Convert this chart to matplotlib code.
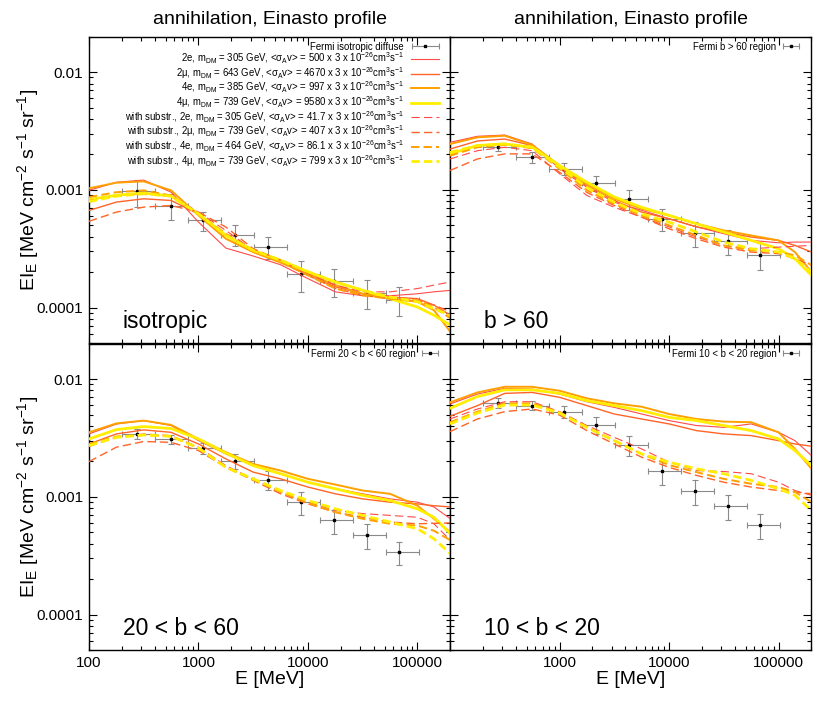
import numpy as np
import matplotlib
matplotlib.use('Agg')
import matplotlib.pyplot as plt
from matplotlib.ticker import LogLocator, FuncFormatter, NullFormatter
from matplotlib.legend_handler import HandlerErrorbar
from matplotlib.container import ErrorbarContainer

plt.rcParams['font.family'] = ['Liberation Sans', 'DejaVu Sans']
plt.rcParams['mathtext.fontset'] = 'custom'
plt.rcParams['mathtext.rm'] = 'Liberation Sans'
plt.rcParams['mathtext.it'] = 'Liberation Sans:italic'
plt.rcParams['mathtext.bf'] = 'Liberation Sans:bold'
plt.rcParams['lines.scale_dashes'] = False

# ---------------- data ----------------
E_model = [100, 178, 316, 562, 1000, 1778, 3162, 5623, 10000, 17783, 31623, 56234, 100000, 141254, 200000]

E_data = [277, 556, 1100, 2170, 4330, 8600, 17200, 34700, 68000]
E_lo = [200, 400, 800, 1600, 3200, 6400, 12800, 25600, 51200]
E_hi = [400, 800, 1600, 3200, 6400, 12800, 25600, 51200, 102400]

# isotropic
iso_I = [9.7e-4, 7.36e-4, 5.5e-4, 4.15e-4, 3.29e-4, 1.93e-4, 1.67e-4, 1.34e-4, 1.17e-4]
iso_err = [2.5e-4, 1.85e-4, 1.0e-4, 8.3e-5, 7.2e-5, 5.8e-5, 4.5e-5, 3.75e-5, 3.3e-5]
iso_2e = [9.9e-4, 1.16e-3, 1.21e-3, 9.55e-4, 5.32e-4, 3.2e-4, 2.74e-4, 2.31e-4, 1.76e-4, 1.36e-4, 1.26e-4, 1.26e-4, 1.31e-4, 1.36e-4, 1.40e-4]
iso_2mu = [6.68e-4, 7.87e-4, 8.39e-4, 8.12e-4, 6.26e-4, 4.1e-4, 2.96e-4, 2.44e-4, 1.88e-4, 1.5e-4, 1.31e-4, 1.23e-4, 1.19e-4, 1.05e-4, 8.6e-5]
iso_4e = [1.03e-3, 1.15e-3, 1.18e-3, 9.9e-4, 6.06e-4, 3.84e-4, 2.96e-4, 2.41e-4, 1.94e-4, 1.55e-4, 1.31e-4, 1.19e-4, 1.12e-4, 9.5e-5, 6.2e-5]
iso_4mu = [8.28e-4, 9.0e-4, 9.4e-4, 8.85e-4, 6.26e-4, 4.1e-4, 3.06e-4, 2.52e-4, 2.01e-4, 1.65e-4, 1.4e-4, 1.19e-4, 1.01e-4, 8.6e-5, 7.1e-5]
iso_2e_sub = [8.12e-4, 8.85e-4, 9.25e-4, 8.95e-4, 6.47e-4, 4.52e-4, 3.06e-4, 2.52e-4, 1.94e-4, 1.55e-4, 1.36e-4, 1.36e-4, 1.45e-4, 1.55e-4, 1.65e-4]
iso_2mu_sub = [5.4e-4, 6.47e-4, 7.13e-4, 7.36e-4, 6.47e-4, 4.83e-4, 3.16e-4, 2.52e-4, 1.88e-4, 1.45e-4, 1.27e-4, 1.19e-4, 1.15e-4, 1.05e-4, 9.2e-5]
iso_4e_sub = [8.67e-4, 9.55e-4, 9.9e-4, 8.95e-4, 6.26e-4, 4.24e-4, 3.06e-4, 2.44e-4, 1.88e-4, 1.45e-4, 1.27e-4, 1.19e-4, 1.15e-4, 1.01e-4, 8.1e-5]
iso_4mu_sub = [7.96e-4, 8.85e-4, 9.25e-4, 8.85e-4, 6.26e-4, 4.1e-4, 3.06e-4, 2.52e-4, 2.01e-4, 1.65e-4, 1.4e-4, 1.23e-4, 1.12e-4, 9.8e-5, 8.6e-5]

# b > 60
b60_I = [2.30e-3, 1.89e-3, 1.51e-3, 1.15e-3, 8.4e-4, 5.68e-4, 4.3e-4, 3.67e-4, 2.81e-4]
b60_err = [1.8e-4, 1.9e-4, 1.8e-4, 1.7e-4, 1.6e-4, 1.25e-4, 1.03e-4, 8.8e-5, 7.3e-5]
b60_2e = [2.53e-3, 2.85e-3, 2.92e-3, 2.45e-3, 1.51e-3, 1.05e-3, 7.86e-4, 6.7e-4, 5.68e-4, 4.85e-4, 4.24e-4, 3.72e-4, 3.55e-4, 3.6e-4, 3.6e-4]
b60_2mu = [2.22e-3, 2.6e-3, 2.70e-3, 2.38e-3, 1.56e-3, 1.08e-3, 8.1e-4, 6.47e-4, 5.68e-4, 4.85e-4, 4.38e-4, 3.97e-4, 3.72e-4, 3.37e-4, 2.96e-4]
b60_4e = [2.45e-3, 2.79e-3, 2.88e-3, 2.41e-3, 1.61e-3, 1.12e-3, 8.4e-4, 6.9e-4, 6.06e-4, 5.15e-4, 4.52e-4, 4.1e-4, 3.72e-4, 2.96e-4, 2.01e-4]
b60_4mu = [2.02e-3, 2.38e-3, 2.45e-3, 2.30e-3, 1.61e-3, 1.16e-3, 8.7e-4, 7.1e-4, 6.06e-4, 5.15e-4, 4.38e-4, 3.72e-4, 3.16e-4, 2.6e-4, 1.88e-4]
b60_2e_sub = [1.83e-3, 2.15e-3, 2.30e-3, 2.15e-3, 1.37e-3, 8.95e-4, 7.1e-4, 5.86e-4, 4.85e-4, 3.97e-4, 3.37e-4, 3.16e-4, 3.26e-4, 3.32e-4, 3.37e-4]
b60_2mu_sub = [1.46e-3, 1.83e-3, 2.02e-3, 2.02e-3, 1.41e-3, 9.5e-4, 7.36e-4, 5.86e-4, 4.67e-4, 3.84e-4, 3.26e-4, 2.96e-4, 2.87e-4, 2.6e-4, 2.29e-4]
b60_4e_sub = [1.95e-3, 2.30e-3, 2.41e-3, 2.26e-3, 1.51e-3, 9.9e-4, 7.6e-4, 6.06e-4, 4.99e-4, 4.1e-4, 3.37e-4, 3.06e-4, 2.96e-4, 2.78e-4, 2.29e-4]
b60_4mu_sub = [2.08e-3, 2.38e-3, 2.45e-3, 2.30e-3, 1.56e-3, 1.05e-3, 7.86e-4, 6.26e-4, 5.32e-4, 4.38e-4, 3.6e-4, 3.16e-4, 2.96e-4, 2.6e-4, 2.01e-4]

# 20 < b < 60
b2060_I = [3.42e-3, 3.08e-3, 2.59e-3, 2.01e-3, 1.40e-3, 9.0e-4, 6.3e-4, 4.77e-4, 3.4e-4]
b2060_err = [3.4e-4, 2.5e-4, 2.6e-4, 2.8e-4, 2.5e-4, 2.0e-4, 1.5e-4, 1.15e-4, 7.5e-5]
b2060_2e = [3.42e-3, 4.15e-3, 4.44e-3, 4.03e-3, 3.0e-3, 2.31e-3, 1.84e-3, 1.57e-3, 1.33e-3, 1.17e-3, 1.06e-3, 9.6e-4, 9.0e-4, 8.2e-4, 6.5e-4]
b2060_2mu = [2.81e-3, 3.42e-3, 3.7e-3, 3.53e-3, 2.81e-3, 2.1e-3, 1.62e-3, 1.42e-3, 1.21e-3, 1.06e-3, 9.6e-4, 9.0e-4, 8.7e-4, 8.4e-4, 8.2e-4]
b2060_4e = [3.53e-3, 4.2e-3, 4.44e-3, 4.08e-3, 3.1e-3, 2.39e-3, 1.9e-3, 1.67e-3, 1.42e-3, 1.27e-3, 1.13e-3, 1.06e-3, 8.4e-4, 6.5e-4, 5.0e-4]
b2060_4mu = [3.1e-3, 3.72e-3, 3.95e-3, 3.8e-3, 3.1e-3, 2.35e-3, 1.84e-3, 1.57e-3, 1.33e-3, 1.17e-3, 1.03e-3, 9.3e-4, 7.9e-4, 6.7e-4, 4.85e-4]
b2060_2e_sub = [2.68e-3, 3.2e-3, 3.42e-3, 3.31e-3, 2.64e-3, 1.84e-3, 1.42e-3, 1.10e-3, 9.0e-4, 7.65e-4, 7.2e-4, 6.95e-4, 6.7e-4, 5.9e-4, 4.27e-4]
b2060_2mu_sub = [1.99e-3, 2.64e-3, 2.95e-3, 2.9e-3, 2.47e-3, 1.78e-3, 1.38e-3, 1.06e-3, 8.7e-4, 7.4e-4, 6.7e-4, 6.1e-4, 5.9e-4, 5.95e-4, 6.0e-4]
b2060_4e_sub = [2.81e-3, 3.25e-3, 3.35e-3, 3.27e-3, 2.6e-3, 1.78e-3, 1.40e-3, 1.10e-3, 8.85e-4, 7.4e-4, 6.5e-4, 5.9e-4, 5.7e-4, 5.15e-4, 4.27e-4]
b2060_4mu_sub = [2.72e-3, 3.2e-3, 3.35e-3, 3.27e-3, 2.6e-3, 1.78e-3, 1.42e-3, 1.13e-3, 9.3e-4, 7.9e-4, 6.95e-4, 6.1e-4, 5.35e-4, 4.4e-4, 3.29e-4]

# 10 < b < 20
b1020_I = [6.27e-3, 5.95e-3, 5.29e-3, 4.1e-3, 2.76e-3, 1.67e-3, 1.13e-3, 8.3e-4, 5.8e-4]
b1020_err = [6.3e-4, 5.4e-4, 6.3e-4, 6.6e-4, 5.5e-4, 4.0e-4, 2.7e-4, 2.0e-4, 1.4e-4]
b1020_2e = [6.14e-3, 7.46e-3, 8.34e-3, 8.23e-3, 7.46e-3, 6.42e-3, 5.75e-3, 5.05e-3, 4.44e-3, 4.03e-3, 3.89e-3, 4.16e-3, 3.53e-3, 3.0e-3, 2.24e-3]
b1020_2mu = [4.83e-3, 5.95e-3, 7.56e-3, 7.7e-3, 7.0e-3, 5.95e-3, 5.05e-3, 4.58e-3, 4.16e-3, 3.65e-3, 3.42e-3, 3.31e-3, 3.0e-3, 2.81e-3, 2.69e-3]
b1020_4e = [6.34e-3, 7.7e-3, 8.6e-3, 8.6e-3, 7.96e-3, 6.86e-3, 6.22e-3, 5.82e-3, 5.05e-3, 4.58e-3, 4.35e-3, 4.3e-3, 3.53e-3, 2.55e-3, 1.73e-3]
b1020_4mu = [5.65e-3, 7.1e-3, 8.1e-3, 8.1e-3, 7.56e-3, 6.55e-3, 5.95e-3, 5.39e-3, 4.73e-3, 4.44e-3, 4.03e-3, 3.65e-3, 3.1e-3, 2.47e-3, 1.84e-3]
b1020_2e_sub = [4.58e-3, 5.57e-3, 6.42e-3, 6.42e-3, 5.29e-3, 4.03e-3, 3.2e-3, 2.55e-3, 1.97e-3, 1.67e-3, 1.64e-3, 1.57e-3, 1.33e-3, 1.13e-3, 1.03e-3]
b1020_2mu_sub = [3.58e-3, 4.58e-3, 5.29e-3, 5.57e-3, 4.95e-3, 3.65e-3, 2.81e-3, 2.17e-3, 1.78e-3, 1.52e-3, 1.33e-3, 1.21e-3, 1.13e-3, 1.10e-3, 1.06e-3]
b1020_4e_sub = [4.3e-3, 5.29e-3, 6.22e-3, 6.22e-3, 5.22e-3, 3.89e-3, 3.0e-3, 2.31e-3, 1.86e-3, 1.62e-3, 1.42e-3, 1.29e-3, 1.21e-3, 1.10e-3, 9.0e-4]
b1020_4mu_sub = [4.16e-3, 5.15e-3, 6.02e-3, 6.02e-3, 5.15e-3, 3.89e-3, 3.0e-3, 2.31e-3, 1.97e-3, 1.73e-3, 1.57e-3, 1.38e-3, 1.17e-3, 1.03e-3, 7.65e-4]

channels = ["2e", "2\u03bc", "4e", "4\u03bc"]
masses = ["305", "643", "385", "739"]
sigmav = ["500", "4670", "997", "9580"]
masses_sub = ["305", "739", "464", "739"]
sigmav_sub = ["41.7", "407", "86.1", "799"]

panel_names = ["isotropic", "b > 60", "20 < b < 60", "10 < b < 20"]
fermi_labels = ["Fermi isotropic diffuse", "Fermi b > 60 region",
                "Fermi 20 < b < 60 region", "Fermi 10 < b < 20 region"]

# ---------------- style ----------------
colors = ['#ff4a4a', '#ff6428', '#ffa000', '#ffee00']
lws = [0.8, 1.0, 1.4, 2.0]
dash = (6.0, 3.0)
LEGFS = 6.9

def make_label(prefix, ch, m, sv):
    return (prefix + ch + r", m$_\mathrm{DM}$ = " + m + r" GeV, <σ$_\mathrm{A}$v> = " + sv +
            r" x 3 x 10$^{-26}$cm$^3$s$^{-1}$")

fig = plt.figure(figsize=(8.30, 7.01), dpi=100)

W = 0.4355
H = 0.437
rects = [(0.1072, 0.5107, W, H), (0.5422, 0.5107, W, H),
         (0.1072, 0.0728, W, H), (0.5422, 0.0728, W, H)]

panel_data = [
    (iso_I, iso_err, [iso_2e, iso_2mu, iso_4e, iso_4mu],
     [iso_2e_sub, iso_2mu_sub, iso_4e_sub, iso_4mu_sub]),
    (b60_I, b60_err, [b60_2e, b60_2mu, b60_4e, b60_4mu],
     [b60_2e_sub, b60_2mu_sub, b60_4e_sub, b60_4mu_sub]),
    (b2060_I, b2060_err, [b2060_2e, b2060_2mu, b2060_4e, b2060_4mu],
     [b2060_2e_sub, b2060_2mu_sub, b2060_4e_sub, b2060_4mu_sub]),
    (b1020_I, b1020_err, [b1020_2e, b1020_2mu, b1020_4e, b1020_4mu],
     [b1020_2e_sub, b1020_2mu_sub, b1020_4e_sub, b1020_4mu_sub]),
]

Ed = np.array(E_data, dtype=float)
xerr = [Ed - np.array(E_lo), np.array(E_hi) - Ed]

ylab_map = {1e-2: '0.01', 1e-3: '0.001', 1e-4: '0.0001'}
xlab_map = {100: '100', 1000: '1000', 10000: '10000', 100000: '100000'}

for k, (rect, (I, err, sol, sub)) in enumerate(zip(rects, panel_data)):
    ax = fig.add_axes(rect)
    ax.set_xscale('log')
    ax.set_yscale('log')
    ax.set_xlim(100, 2e5)
    ax.set_ylim(5e-5, 2e-2)

    h_data = ax.errorbar(E_data, I, xerr=xerr, fmt='s', ms=1.8, color='black',
                         ecolor='#8a8a8a', elinewidth=0.8, capsize=2.2, capthick=0.8,
                         label=fermi_labels[k], zorder=2)
    ax.errorbar(E_data, I, yerr=err, fmt='none', ecolor='#8a8a8a',
                elinewidth=0.8, capsize=2.2, capthick=0.8, zorder=2)

    handles = [h_data]
    for i in range(4):
        ln, = ax.plot(E_model, sol[i], color=colors[i], lw=lws[i], zorder=3,
                      label=make_label("", channels[i], masses[i], sigmav[i]))
        handles.append(ln)
    for i in range(4):
        ln, = ax.plot(E_model, sub[i], color=colors[i], lw=lws[i], zorder=3,
                      linestyle=(0, dash),
                      label=make_label("with substr., ", channels[i], masses_sub[i], sigmav_sub[i]))
        handles.append(ln)

    if k == 0:
        ax.legend(handles=handles, loc='upper right', bbox_to_anchor=(0.975, 0.99),
                  frameon=False, fontsize=LEGFS, markerfirst=False,
                  handlelength=3.0, handletextpad=0.7, labelspacing=-0.1,
                  borderaxespad=0.0, borderpad=0.2,
                  handler_map={ErrorbarContainer: HandlerErrorbar(xerr_size=1.4)})
    else:
        ax.legend(handles=[h_data], loc='upper right', bbox_to_anchor=(0.975, 0.99),
                  frameon=False, fontsize=LEGFS, markerfirst=False,
                  handlelength=2.0, handletextpad=0.5,
                  borderaxespad=0.0, borderpad=0.2,
                  handler_map={ErrorbarContainer: HandlerErrorbar(xerr_size=0.85)})

    ax.text(0.094, 0.05, panel_names[k], transform=ax.transAxes, fontsize=16.5,
            ha='left', va='baseline')

    ax.xaxis.set_major_locator(LogLocator(base=10, numticks=10))
    ax.xaxis.set_minor_locator(LogLocator(base=10, subs=np.arange(2, 10), numticks=20))
    ax.yaxis.set_major_locator(LogLocator(base=10, numticks=10))
    ax.yaxis.set_minor_locator(LogLocator(base=10, subs=np.arange(2, 10), numticks=20))
    ax.xaxis.set_minor_formatter(NullFormatter())
    ax.yaxis.set_minor_formatter(NullFormatter())

    if k in (2, 3):
        if k == 3:
            ax.xaxis.set_major_formatter(FuncFormatter(
                lambda v, p: '' if abs(v - 100) < 1 else xlab_map.get(int(round(v)), '')))
        else:
            ax.xaxis.set_major_formatter(FuncFormatter(
                lambda v, p: xlab_map.get(int(round(v)), '')))
    else:
        ax.xaxis.set_major_formatter(NullFormatter())
    if k in (0, 2):
        ax.yaxis.set_major_formatter(FuncFormatter(
            lambda v, p: next((s for key, s in ylab_map.items() if abs(v / key - 1) < 1e-6), '')))
    else:
        ax.yaxis.set_major_formatter(NullFormatter())

    ax.tick_params(which='both', direction='in', top=True, right=True, labelsize=11, width=0.8)
    ax.tick_params(which='major', length=6, pad=4)
    ax.tick_params(which='minor', length=3)
    for s in ax.spines.values():
        s.set_linewidth(1.0)

# titles and axis labels
for xc in (0.1072 + W / 2, 0.5422 + W / 2):
    fig.text(xc, 0.972, "annihilation, Einasto profile", fontsize=14, ha='center', va='center')
    fig.text(xc, 0.030, "E [MeV]", fontsize=14, ha='center', va='center')
for yc in (0.729, 0.291):
    fig.text(0.034, yc, r"EI$_\mathrm{E}$ [MeV cm$^{-2}$ s$^{-1}$ sr$^{-1}$]", fontsize=14,
             rotation=90, ha='center', va='center')

fig.savefig("out.png", dpi=100)
